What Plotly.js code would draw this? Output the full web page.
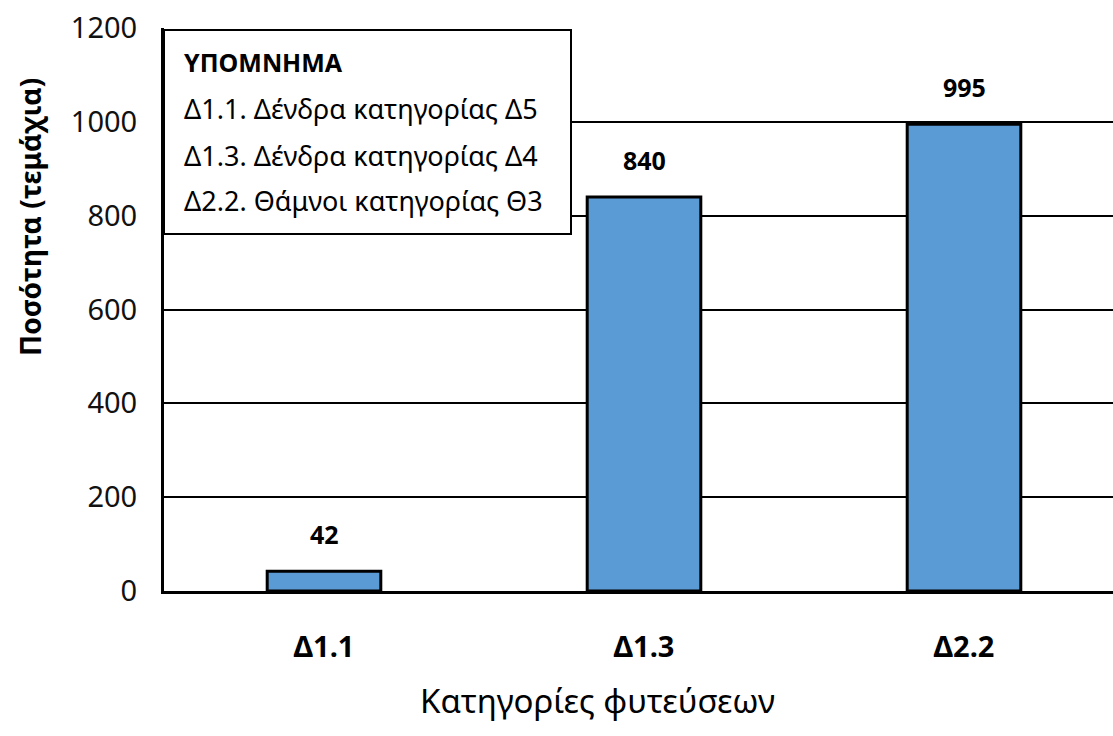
<!DOCTYPE html>
<html><head><meta charset="utf-8">
<script src="https://cdn.plot.ly/plotly-3.0.1.min.js"></script>
<style>html,body{margin:0;padding:0;background:#fff}#chart{width:1113px;height:736px}</style>
</head><body><div id="chart"></div>
<script>
const categories = ['Δ1.1', 'Δ1.3', 'Δ2.2'];
const quantities = [42, 840, 995];
const yTicks = [0, 200, 400, 600, 800, 1000, 1200];
const legendTitle = 'ΥΠΟΜΝΗΜΑ';
const legendLines = ['Δ1.1. Δένδρα κατηγορίας Δ5', 'Δ1.3. Δένδρα κατηγορίας Δ4', 'Δ2.2. Θάμνοι κατηγορίας Θ3'];
const xTitle = 'Κατηγορίες φυτεύσεων';
const yTitle = 'Ποσότητα (τεμάχια)';

const FONT = 'Noto Sans, Open Sans, sans-serif';
const L = 164, T = 28, W = 1113, H = 736, B = 591;
const pw = W - L, ph = B - T;
const px = v => (v - L) / pw;
const py = v => (B - v) / ph;

const trace = {
  type: 'bar', x: categories, y: quantities,
  width: 0.355,
  marker: {color: '#5B9BD5', line: {color: '#000', width: 3}},
  hoverinfo: 'x+y'
};

const annotations = [];
categories.forEach((c, i) => {
  annotations.push({x: c, y: quantities[i], xref: 'x', yref: 'y', text: '<b>' + quantities[i] + '</b>',
    showarrow: false, yanchor: 'middle', yshift: 37, font: {family: FONT, size: 25, color: '#000'}});
});
annotations.push({xref: 'paper', yref: 'paper', x: px(182), y: py(62), xanchor: 'left', yanchor: 'middle',
  text: '<b>' + legendTitle + '</b>', showarrow: false, font: {family: FONT, size: 25, color: '#000'}});
const ly = [108, 155, 200];
legendLines.forEach((t, i) => annotations.push({xref: 'paper', yref: 'paper', x: px(182), y: py(ly[i]),
  xanchor: 'left', yanchor: 'middle', text: t, showarrow: false, font: {family: FONT, size: 27, color: '#000'}}));
annotations.push({xref: 'paper', yref: 'paper', x: px(30), y: py(217), xanchor: 'center', yanchor: 'middle',
  text: '<b>' + yTitle + '</b>', textangle: -90, showarrow: false, font: {family: FONT, size: 28, color: '#000'}});
annotations.push({xref: 'paper', yref: 'paper', x: px(597), y: py(700), xanchor: 'center', yanchor: 'middle',
  text: xTitle, showarrow: false, font: {family: FONT, size: 33, color: '#000'}});

const layout = {
  width: W, height: H,
  margin: {l: L, r: 0, t: T, b: H - B, pad: 0},
  paper_bgcolor: '#fff', plot_bgcolor: '#fff',
  showlegend: false,
  xaxis: {
    type: 'category', range: [-0.5, -0.5 + pw / 320],
    showline: true, linecolor: '#000', linewidth: 3, mirror: false,
    showgrid: false, ticks: '', zeroline: false,
    tickfont: {family: FONT, size: 29, color: '#000'},
    tickvals: categories, ticktext: categories.map(c => '<b>' + c + '</b>'),
    ticklabelstandoff: 28
  },
  yaxis: {
    range: [0, 1200], tickvals: yTicks, ticktext: yTicks.map(String),
    showline: true, linecolor: '#000', linewidth: 3,
    showgrid: true, gridcolor: '#000', gridwidth: 2, zeroline: false,
    ticks: '', tickfont: {family: FONT, size: 29, color: '#111'},
    ticklabelstandoff: 18
  },
  shapes: [{type: 'rect', xref: 'paper', yref: 'paper', x0: px(164), x1: px(571), y0: py(234), y1: py(30),
    fillcolor: '#fff', line: {color: '#000', width: 2}, layer: 'above'}],
  annotations: annotations
};

Plotly.newPlot('chart', [trace], layout, {displayModeBar: false, staticPlot: true});
</script></body></html>
